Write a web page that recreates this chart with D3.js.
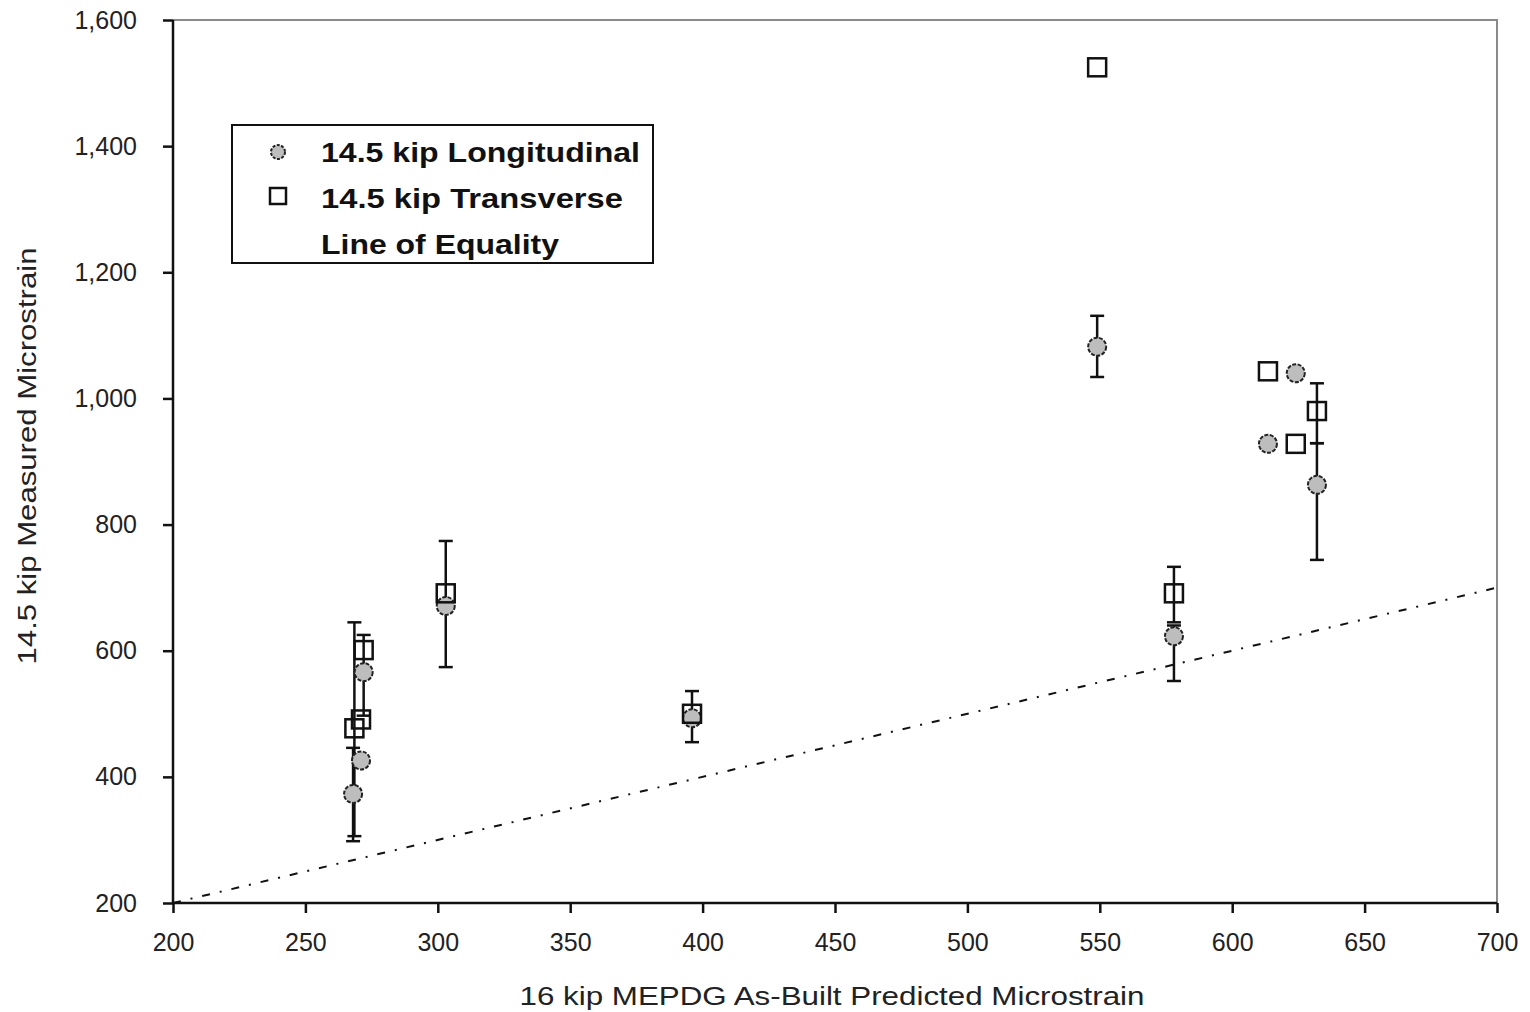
<!DOCTYPE html>
<html>
<head>
<meta charset="utf-8">
<script src="https://cdn.jsdelivr.net/npm/d3@7"></script>
<style>
    body { margin: 0; background: #fff; }
    svg { display: block; font-family: "Liberation Sans", Arial, sans-serif; }
</style>
</head>
<body>
<svg id="chart" width="1530" height="1012"></svg>
<script>
// predicted (x), measured (y), error bar low / high (null = none)
const longX = [268, 271, 272, 303, 396, 549, 578, 613.5, 624, 632];
const longY = [373, 426, 566, 671, 493, 1082, 623, 928, 1040, 863];
const longLo = [298, null, null, 574, 455, 1034, 552, null, null, 744];
const longHi = [446, null, null, 774, 536, 1131, 640, null, null, 929];

const transX = [268.5, 271, 272, 303, 396, 549, 578, 613.5, 624, 632];
const transY = [477, 491, 601, 691, 500, 1525, 691, 1043, 928, 980];
const transLo = [306, null, 497, null, null, null, 645, null, null, 929];
const transHi = [645, null, 625, null, null, null, 733, null, null, 1024];

const xTicks = [200, 250, 300, 350, 400, 450, 500, 550, 600, 650, 700];
const yTicks = [200, 400, 600, 800, 1000, 1200, 1400, 1600];
const equality = [200, 700];

const legendItems = ["14.5 kip Longitudinal", "14.5 kip Transverse", "Line of Equality"];

const svg = d3.select("#chart");
const margin = { left: 173, top: 20, right: 1497, bottom: 903 };

const x = d3.scaleLinear().domain([200, 700]).range([margin.left, margin.right]);
const y = d3.scaleLinear().domain([200, 1600]).range([margin.bottom, margin.top]);

// frame: gray top / right
svg.append("path")
    .attr("d", `M${margin.left},${margin.top}H${margin.right}V${margin.bottom}`)
    .attr("fill", "none")
    .attr("stroke", "#8a8a8a")
    .attr("stroke-width", 2);

const xAxis = svg.append("g")
    .attr("transform", `translate(0,${margin.bottom})`)
    .call(d3.axisBottom(x).tickValues(xTicks).tickSize(10).tickPadding(20).tickFormat(d3.format("d")));

const yAxis = svg.append("g")
    .attr("transform", `translate(${margin.left},0)`)
    .call(d3.axisLeft(y).tickValues(yTicks).tickSize(10).tickPadding(26).tickFormat(d3.format(",")));

[xAxis, yAxis].forEach(a => {
    a.select("path.domain").attr("stroke", "#111").attr("stroke-width", 2.5);
    a.selectAll("line").attr("stroke", "#111").attr("stroke-width", 2.5);
    a.selectAll("text")
        .attr("font-size", 25)
        .attr("font-family", "'Liberation Sans', Arial, sans-serif")
        .attr("fill", "#222");
});
xAxis.select("path.domain").attr("d", `M${margin.left},0H${margin.right}`);
yAxis.select("path.domain").attr("d", `M0,${margin.top}V${margin.bottom}`);

// line of equality
svg.append("line")
    .attr("x1", x(equality[0])).attr("y1", y(equality[0]))
    .attr("x2", x(equality[1])).attr("y2", y(equality[1]))
    .attr("stroke", "#111")
    .attr("stroke-width", 2)
    .attr("stroke-dasharray", "8,10,2,10");

// error bars
function drawErrors(xs, lo, hi) {
    const g = svg.append("g").attr("stroke", "#111").attr("stroke-width", 2.5);
    xs.forEach((v, i) => {
        if (lo[i] == null) return;
        const cx = x(v);
        g.append("line").attr("x1", cx).attr("x2", cx).attr("y1", y(lo[i])).attr("y2", y(hi[i]));
        [lo[i], hi[i]].forEach(e => {
            g.append("line").attr("x1", cx - 7).attr("x2", cx + 7).attr("y1", y(e)).attr("y2", y(e));
        });
    });
}
drawErrors(longX, longLo, longHi);
drawErrors(transX, transLo, transHi);

// markers
svg.append("g").selectAll("circle")
    .data(longX)
    .join("circle")
    .attr("cx", d => x(d))
    .attr("cy", (d, i) => y(longY[i]))
    .attr("r", 9)
    .attr("fill", "#bdbdbd")
    .attr("stroke", "#222")
    .attr("stroke-width", 2)
    .attr("stroke-dasharray", "4,1.5");

svg.append("g").selectAll("rect")
    .data(transX)
    .join("rect")
    .attr("x", d => x(d) - 9)
    .attr("y", (d, i) => y(transY[i]) - 9)
    .attr("width", 18)
    .attr("height", 18)
    .attr("fill", "none")
    .attr("stroke", "#111")
    .attr("stroke-width", 2.5);

// axis titles
svg.append("text")
    .attr("x", 832).attr("y", 1005)
    .attr("text-anchor", "middle")
    .attr("font-size", 25)
    .attr("fill", "#222")
    .attr("textLength", 625)
    .attr("lengthAdjust", "spacingAndGlyphs")
    .text("16 kip MEPDG As-Built Predicted Microstrain");

svg.append("text")
    .attr("transform", "translate(36,456) rotate(-90)")
    .attr("text-anchor", "middle")
    .attr("font-size", 25)
    .attr("fill", "#222")
    .attr("textLength", 417)
    .attr("lengthAdjust", "spacingAndGlyphs")
    .text("14.5 kip Measured Microstrain");

// legend
const legend = svg.append("g");
legend.append("rect")
    .attr("x", 232).attr("y", 125).attr("width", 421).attr("height", 138)
    .attr("fill", "#fff").attr("stroke", "#111").attr("stroke-width", 2);

legendItems.forEach((t, i) => {
    legend.append("text")
        .attr("x", 321).attr("y", 162 + i * 46)
        .attr("font-size", 28)
        .attr("font-weight", "bold")
        .attr("fill", "#111")
        .attr("textLength", [319, 302, 238][i])
        .attr("lengthAdjust", "spacingAndGlyphs")
        .text(t);
});
legend.append("circle")
    .attr("cx", 278).attr("cy", 152).attr("r", 7)
    .attr("fill", "#bdbdbd").attr("stroke", "#222").attr("stroke-width", 2)
    .attr("stroke-dasharray", "3,1.5");
legend.append("rect")
    .attr("x", 270).attr("y", 188).attr("width", 16).attr("height", 16)
    .attr("fill", "none").attr("stroke", "#111").attr("stroke-width", 2.5);
</script>
</body>
</html>
